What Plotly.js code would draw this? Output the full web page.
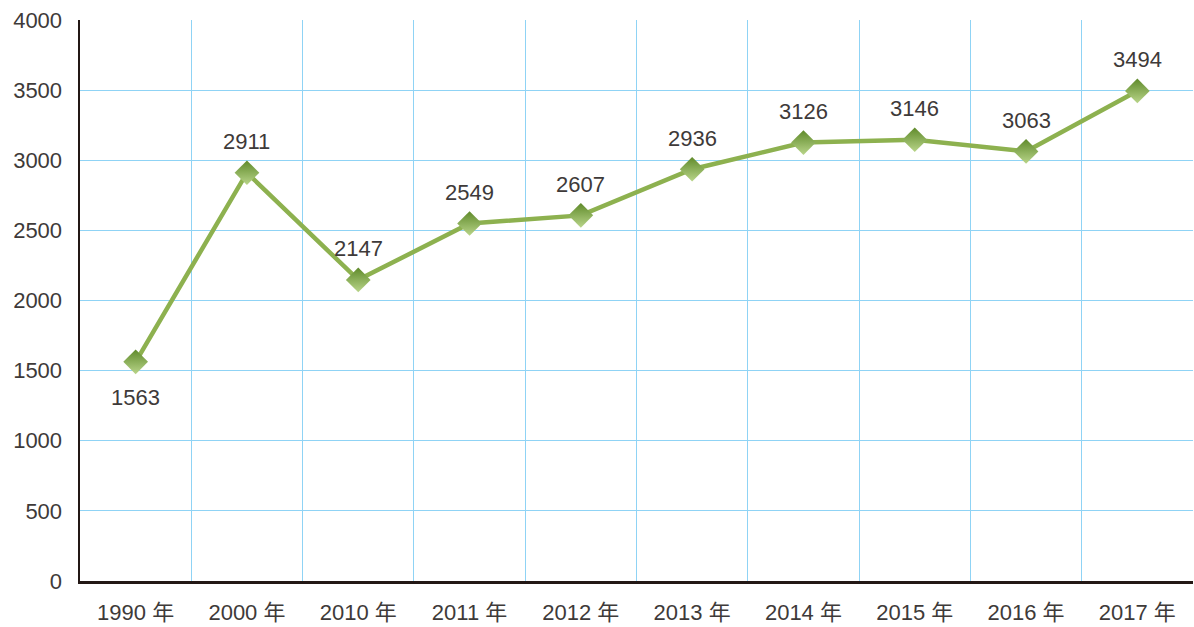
<!DOCTYPE html>
<html>
<head>
<meta charset="utf-8">
<script src="https://cdn.plot.ly/plotly-3.0.1.min.js"></script>
<style>html,body{margin:0;padding:0;background:#fff;}#chart{width:1194px;height:627px;}</style>
</head>
<body>
<div id="chart"></div>
<script>
const categories = ["1990 年","2000 年","2010 年","2011 年","2012 年","2013 年","2014 年","2015 年","2016 年","2017 年"];
const values = [1563, 2911, 2147, 2549, 2607, 2936, 3126, 3146, 3063, 3494];
const labelBelow = [true, false, false, false, false, false, false, false, false, false];
const yTicks = [0,500,1000,1500,2000,2500,3000,3500,4000];

const font = "Liberation Sans, Arial, Noto Sans CJK SC, sans-serif";
const textColor = "#3e3a39";

const trace = {
  type: "scatter",
  mode: "lines+markers",
  x: categories,
  y: values,
  line: {color: "#8db14f", width: 4.5},
  marker: {symbol: "diamond", size: 19, color: "#5f8a2a",
           gradient: {type: "vertical", color: "#b9d58a"},
           line: {width: 0}},
  cliponaxis: false,
  hoverinfo: "skip"
};

const annotations = categories.map((c, i) => ({
  x: c, y: values[i], xref: "x", yref: "y",
  text: String(values[i]), showarrow: false,
  yshift: labelBelow[i] ? -36 : 31,
  font: {family: font, size: 22, color: textColor}
}));

const layout = {
  width: 1194, height: 627,
  margin: {l: 80, r: 1, t: 20, b: 46},
  paper_bgcolor: "#ffffff",
  plot_bgcolor: "#ffffff",
  showlegend: false,
  font: {family: font, color: textColor, size: 20},
  annotations: annotations,
  xaxis: {
    type: "category",
    range: [-0.5, 9.5],
    tickson: "boundaries",
    showgrid: true, gridcolor: "#8fd3f5", gridwidth: 1,
    showline: true, linecolor: "#231815", linewidth: 2.5,
    ticks: "", ticklabelstandoff: 10,
    tickfont: {family: font, size: 22, color: textColor},
    zeroline: false, fixedrange: true
  },
  yaxis: {
    range: [0, 4000],
    tickvals: yTicks,
    ticktext: yTicks.map(String),
    showgrid: true, gridcolor: "#8fd3f5", gridwidth: 1,
    showline: true, linecolor: "#231815", linewidth: 2.5,
    ticks: "", ticklabelstandoff: 11,
    tickfont: {family: font, size: 22, color: textColor},
    zeroline: false, fixedrange: true
  }
};

Plotly.newPlot("chart", [trace], layout, {staticPlot: true, displayModeBar: false});
</script>
</body>
</html>
